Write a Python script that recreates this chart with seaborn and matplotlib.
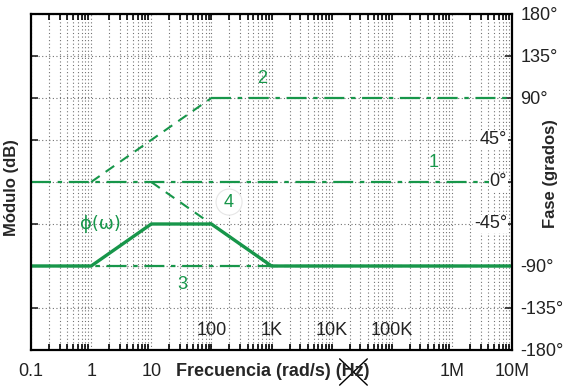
import matplotlib
matplotlib.use("Agg")
import matplotlib.pyplot as plt
import matplotlib.ticker as mticker
import numpy as np
import pandas as pd
import seaborn as sns

# asymptotic phase terms (frequency in rad/s, phase in degrees)
phi_freq = [0.1, 1, 10, 100, 1000, 1e7]
phi_phase = [-90, -90, -45, -45, -90, -90]

term1_freq = [0.1, 1e7]
term1_phase = [0, 0]

term2_ramp_freq = [1, 100]
term2_ramp_phase = [0, 90]
term2_flat_freq = [100, 1e7]
term2_flat_phase = [90, 90]

term3_freq = [0.1, 1e7]
term3_phase = [-90, -90]

term4_ramp_freq = [10, 1000]
term4_ramp_phase = [0, -90]

bottom_ticks = [0.1, 1, 10, 1e6, 1e7]
bottom_labels = ["0.1", "1", "10", "1M", "10M"]
inner_ticks = [100, 1000, 1e4, 1e5]
inner_labels = ["100", "1K", "10K", "100K"]

phase_ticks = [-180, -135, -90, -45, 0, 45, 90, 135, 180]
outer_phase_labels = ["-180°", "-135°", "-90°", "", "", "", "90°", "135°", "180°"]
inner_phase_ticks = [45, 0, -45]
inner_phase_labels = ["45°", "0°", "-45°"]

GREEN = "#17964a"

sns.set_style("white")
plt.rcParams["font.family"] = ["Liberation Sans", "DejaVu Sans"]

fig = plt.figure(figsize=(5.67, 3.86), dpi=100)
ax = fig.add_axes([31 / 567, 36 / 386, 481 / 567, 336 / 386])
ax.set_xscale("log")


def seg(x, y, **kw):
    df = pd.DataFrame({"f": x, "p": y})
    sns.lineplot(data=df, x="f", y="p", ax=ax, color=GREEN, sort=False, **kw)


dashdot = (0, (9, 3, 2, 3))
dashed = (0, (5, 3.5))
seg(term1_freq, term1_phase, lw=1.6, linestyle=dashdot)
seg(term2_ramp_freq, term2_ramp_phase, lw=1.5, linestyle=dashed)
seg(term2_flat_freq, term2_flat_phase, lw=1.6, linestyle=dashdot)
seg(term3_freq, term3_phase, lw=1.6, linestyle=dashdot)
seg(term4_ramp_freq, term4_ramp_phase, lw=1.5, linestyle=dashed)
seg(phi_freq, phi_phase, lw=2.4, linestyle="-")

ax.set_xlim(0.1, 1e7)
ax.set_ylim(-180, 180)

# grid
grid_kw = dict(ls=(0, (1, 2.2)), color="0.45", lw=0.8)
ax.xaxis.set_major_locator(mticker.FixedLocator(bottom_ticks))
ax.xaxis.set_minor_locator(mticker.LogLocator(base=10, subs=np.arange(1, 10), numticks=50))
ax.xaxis.set_minor_formatter(mticker.NullFormatter())
ax.set_xticklabels(bottom_labels)
ax.grid(which="both", axis="x", **grid_kw)
ax.set_yticks(phase_ticks)
ax.grid(which="major", axis="y", **grid_kw)
ax.set_axisbelow(True)

ax.tick_params(axis="x", which="both", direction="in", top=True, bottom=True,
               length=4, width=1.2, labelsize=13, pad=9, colors="black")
ax.tick_params(axis="x", which="major", length=0)
ax.tick_params(axis="y", which="both", direction="in", left=True, right=True,
               length=5, width=1.2, labelleft=False, labelright=True,
               labelsize=13, pad=6)
ax.set_yticklabels(outer_phase_labels)
for lab in ax.get_yticklabels() + ax.get_xticklabels():
    lab.set_color("#222222")

for s in ax.spines.values():
    s.set_visible(True)
    s.set_color("black")
    s.set_linewidth(1.6)

for v, t in zip(inner_ticks, inner_labels):
    ax.text(v, -159, t, ha="center", va="center", fontsize=13, color="#222222")
for v, t in zip(inner_phase_ticks, inner_phase_labels):
    ax.text(0.99, v, t, transform=ax.get_yaxis_transform(), ha="right",
            va="center", fontsize=13, color="#222222",
            bbox=dict(boxstyle="square,pad=0.05", fc="white", ec="none"))

# term labels
circ = dict(boxstyle="circle,pad=0.25", fc="white", ec="#e6e6e6", lw=0.8)
ax.text(697, 111, "2", ha="center", va="center", fontsize=13, color=GREEN)
ax.text(4.9e5, 21, "1", ha="center", va="center", fontsize=13, color=GREEN)
ax.text(197, -21.5, "4", ha="center", va="center", fontsize=13, color=GREEN, bbox=circ)
ax.text(32.5, -110, "3", ha="center", va="center", fontsize=13, color=GREEN)
ax.text(1.42, -45, "ϕ(ω)", ha="center", va="center", fontsize=13, color=GREEN,
        family=["DejaVu Sans"])

ax.set_xlabel("")
ax.set_ylabel("")

# axis titles
lab_kw = dict(fontsize=13, fontweight="bold")
xl = fig.text(273 / 567, 1 - 372 / 386, "Frecuencia (rad/s) (Hz)", ha="center",
              va="center", **lab_kw)
fig.text(12 / 567, 1 - 188 / 386, "Módulo (dB)", rotation=90, ha="center",
         va="center", fontsize=12, fontweight="bold")
fig.text(551 / 567, 1 - 174 / 386, "Fase (grados)", rotation=90, ha="center",
         va="center", fontsize=12, fontweight="bold")

# cross out "Hz"
fig.canvas.draw()
r = fig.canvas.get_renderer()
full = xl.get_window_extent(r)
pre = fig.text(0, 0, "Frecuencia (rad/s) (", **lab_kw)
hz = fig.text(0, 0, "Hz", **lab_kw)
w_pre = pre.get_window_extent(r).width
w_hz = hz.get_window_extent(r).width
pre.remove()
hz.remove()
x0 = (full.x0 + w_pre) / fig.bbox.width
x1 = (full.x0 + w_pre + w_hz) / fig.bbox.width
y0 = full.y0 / fig.bbox.height - 0.012
y1 = full.y1 / fig.bbox.height + 0.012
fig.add_artist(plt.Line2D([x0 - 0.004, x1 + 0.006], [y1, y0], color="black", lw=1.0))
fig.add_artist(plt.Line2D([x0 - 0.004, x1 + 0.006], [y0, y1], color="black", lw=1.0))

fig.savefig("out.png", dpi=100)
